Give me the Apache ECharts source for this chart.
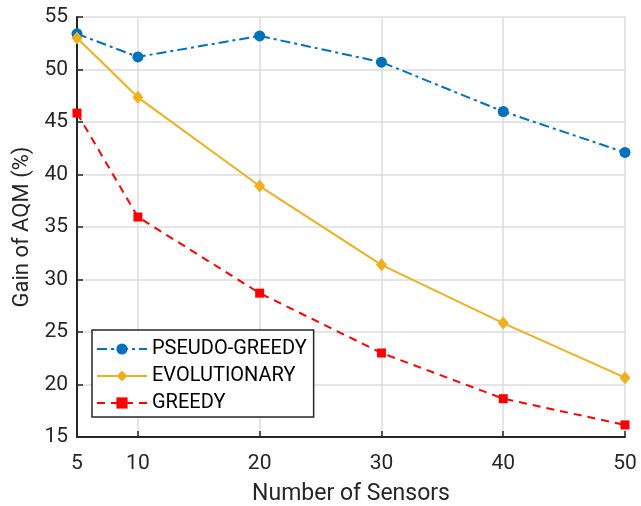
<!DOCTYPE html>
<html>
<head>
<meta charset="utf-8">
<script src="https://cdn.jsdelivr.net/npm/echarts@6/dist/echarts.min.js"></script>
<style>
  html, body { margin: 0; padding: 0; background: #fff; }
  #chart { width: 641px; height: 506px; }
</style>
</head>
<body>
<div id="chart"></div>
<script>
// sensors on the x axis
const sensors = [5, 10, 20, 30, 40, 50];
const xTicks = [5, 10, 20, 30, 40, 50];
const pseudoGreedy = [53.4, 51.2, 53.2, 50.7, 46.0, 42.1];
const evolutionary = [53.0, 47.35, 38.9, 31.4, 25.85, 20.65];
const greedy = [45.85, 35.95, 28.7, 23.0, 18.65, 16.15];

const txt = '#262626';
const font = 'Roboto';

function pairs(vals) {
  return sensors.map((s, i) => [s, vals[i]]);
}

let chart = echarts.init(document.getElementById('chart'));

let opts = {
  animation: false,
  textStyle: { fontFamily: font },
  grid: { left: 77, right: 16, top: 17, bottom: 69, outerBoundsMode: 'none' },
  legend: {
    orient: 'vertical',
    left: 92,
    top: 330,
    itemWidth: 50,
    itemHeight: 14,
    itemGap: 7,
    padding: [9, 7, 4, 4],
    borderColor: '#262626',
    borderWidth: 1.5,
    backgroundColor: '#fff',
    textStyle: { fontFamily: font, fontSize: 20, lineHeight: 20, color: '#000' },
    data: ['PSEUDO-GREEDY', 'EVOLUTIONARY', 'GREEDY']
  },
  xAxis: {
    type: 'value',
    min: 5,
    max: 50,
    name: 'Number of Sensors',
    nameLocation: 'middle',
    nameGap: 46,
    nameTextStyle: { fontSize: 23, color: txt, fontFamily: font },
    axisLine: { lineStyle: { color: txt, width: 2 } },
    axisTick: { inside: true, length: 6, customValues: xTicks, lineStyle: { color: txt, width: 1.5 } },
    axisLabel: { customValues: xTicks, fontSize: 21, color: txt, margin: 16, fontFamily: font },
    splitLine: { show: true, lineStyle: { color: '#dcdcdc', width: 1.5 } }
  },
  yAxis: {
    type: 'value',
    min: 15,
    max: 55,
    interval: 5,
    name: 'Gain of AQM (%)',
    nameLocation: 'middle',
    nameGap: 44,
    nameTextStyle: { fontSize: 22, color: txt, fontFamily: font },
    axisLine: { show: true, lineStyle: { color: txt, width: 2 } },
    axisTick: { show: true, inside: true, length: 6, lineStyle: { color: txt, width: 1.5 } },
    axisLabel: { fontSize: 21, color: txt, margin: 9, fontFamily: font },
    splitLine: { show: true, lineStyle: { color: '#dcdcdc', width: 1.5 } }
  },
  series: [
    {
      name: 'PSEUDO-GREEDY',
      type: 'line',
      data: pairs(pseudoGreedy),
      symbol: 'circle',
      symbolSize: 11,
      color: '#0072BD',
      lineStyle: { width: 2, type: [10, 4, 3, 4] },
      z: 3
    },
    {
      name: 'EVOLUTIONARY',
      type: 'line',
      data: pairs(evolutionary),
      symbol: 'diamond',
      symbolSize: [11, 13],
      color: '#EDB120',
      lineStyle: { width: 2, type: 'solid' },
      z: 4
    },
    {
      name: 'GREEDY',
      type: 'line',
      data: pairs(greedy),
      symbol: 'rect',
      symbolSize: 9,
      color: '#FF0000',
      lineStyle: { width: 2, type: [8, 6] },
      z: 5
    }
  ]
};

chart.setOption(opts);
</script>
</body>
</html>
